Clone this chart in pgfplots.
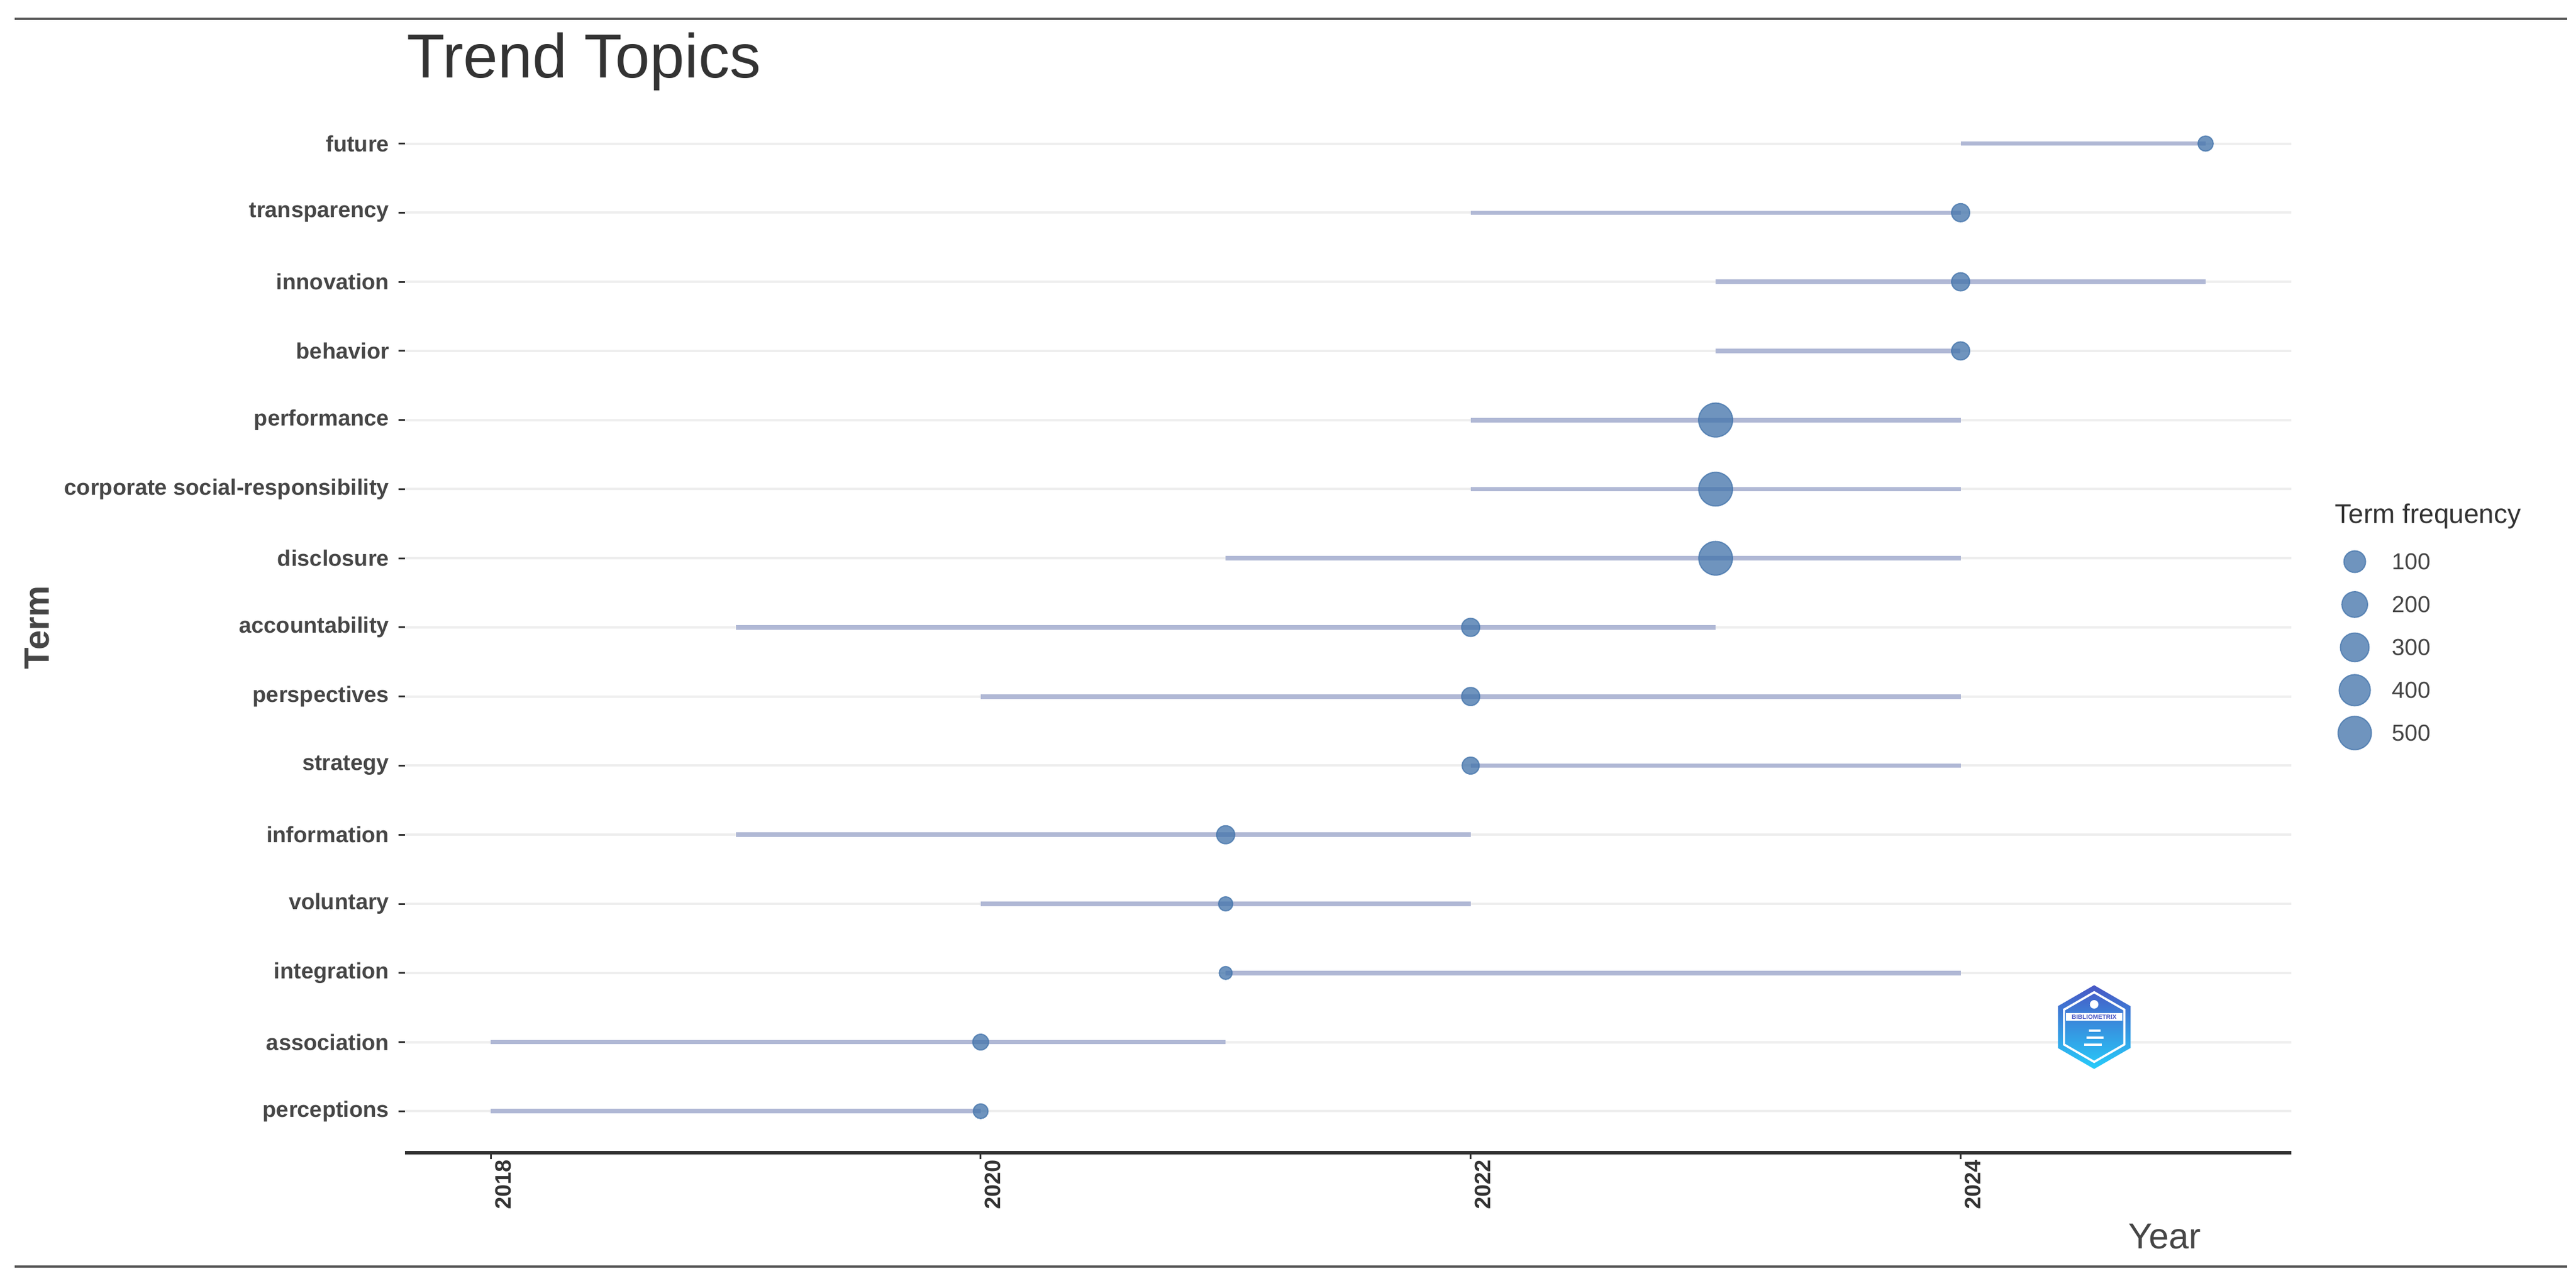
\documentclass[border=0pt]{standalone}
\usepackage{fontspec}
\setmainfont{Liberation Sans}
\usepackage{pgfplots}
\usepackage{pgfplotstable}
\pgfplotsset{compat=1.18}
\definecolor{segc}{RGB}{176,184,213}
\definecolor{dotc}{RGB}{70,118,172}
\definecolor{gridc}{RGB}{238,238,238}
\definecolor{txt}{RGB}{70,70,70}
\definecolor{ttl}{RGB}{51,51,51}
\definecolor{rulec}{RGB}{85,85,85}
\definecolor{logotop}{RGB}{72,86,196}
\definecolor{logobot}{RGB}{38,204,250}

% y = row (1 = bottom), year = median year (dot), q1/q3 = segment ends, freq = term frequency
\pgfplotstableread{
y year q1 q3 freq
15 2025 2024 2025 16
14 2024 2022 2024 42
13 2024 2023 2025 42
12 2024 2023 2024 42
11 2023 2022 2024 530
10 2023 2022 2024 520
9 2023 2021 2024 515
8 2022 2019 2023 42
7 2022 2020 2024 42
6 2022 2022 2024 30
5 2021 2019 2022 42
4 2021 2020 2022 12
3 2021 2021 2024 10
2 2020 2018 2021 20
1 2020 2018 2020 14
}\trend

\pgfplotstableread{
freq
100
200
300
400
500
}\sizes

\pgfplotsset{
  dotstyle/.style={scatter, only marks, mark=*, point meta=\thisrow{freq},
    visualization depends on={1.65+2.7*sqrt((\thisrow{freq}-10)/520) \as \msz},
    scatter/use mapped color={draw=dotc, fill=dotc},
    scatter/@pre marker code/.append style={/tikz/mark size=\msz pt},
    mark options={fill opacity=0.78, draw opacity=0.78, line width=0.3pt}},
}

\begin{document}
\begin{tikzpicture}
\useasboundingbox (0,0) rectangle (658.35pt,327.9pt);
\draw[rulec, line width=0.6pt] (3.75pt,323.1pt) -- (656.1pt,323.1pt);
\draw[rulec, line width=0.6pt] (3.75pt,4.2pt) -- (656.1pt,4.2pt);

\begin{axis}[
  at={(103.5pt,33.3pt)}, anchor=south west, scale only axis,
  width=482.1pt, height=268.5pt,
  xmin=2017.65, xmax=2025.35, ymin=0.4, ymax=15.6,
  axis x line*=bottom, axis y line*=left,
  x axis line style={-, line width=0.9pt, color=ttl},
  y axis line style={draw=none},
  xtick={2018,2020,2022,2024}, xticklabels={2018,2020,2022,2024},
  ytick={1,...,15},
  yticklabels={perceptions,association,integration,voluntary,information,strategy,perspectives,accountability,disclosure,corporate social-responsibility,performance,behavior,innovation,transparency,future},
  tick align=outside, major tick length=1.6pt,
  tick style={color=ttl, line width=0.45pt},
  ymajorgrids, grid style={gridc, line width=0.6pt},
  yticklabel style={font=\fontsize{5.7}{6.8}\selectfont\bfseries, text=txt, inner sep=0pt, anchor=east, xshift=-2.25pt},
  xticklabel style={font=\fontsize{5.7}{6.8}\selectfont\bfseries, text=ttl, rotate=90, anchor=east, inner sep=0pt, yshift=-3.15pt},
  clip=false,
]
\addplot[forget plot, no markers, draw=segc, line width=1.15pt, line cap=butt,
  quiver={u=\thisrow{q3}-\thisrow{q1}, v=0}]
  table[x=q1, y=y] {\trend};
\addplot[dotstyle] table[x=year, y=y] {\trend};
\end{axis}

% size legend
\begin{axis}[at={(600.8pt,184.35pt)}, anchor=north west, scale only axis,
  width=2pt, height=43.8pt, xmin=-1, xmax=1, ymin=100, ymax=500,
  y dir=reverse, hide axis, clip=false]
\addplot[dotstyle] table[x expr=0, y=freq] {\sizes};
\foreach \v in {100,200,300,400,500}{
  \edef\tmp{\noexpand\node[anchor=west, inner sep=0pt, xshift=9.3pt, font=\noexpand\fontsize{5.9}{7}\noexpand\selectfont, text=txt] at (axis cs:0,\v) {\v};}
  \tmp
}
\end{axis}

\node[anchor=base west, font=\fontsize{15.9}{18}\selectfont, text=ttl, inner sep=0pt] at (103.8pt,307.95pt) {Trend Topics};
\node[anchor=base west, font=\fontsize{9.2}{11}\selectfont, text=txt, inner sep=0pt] at (543.75pt,8.7pt) {Year};
\node[rotate=90, font=\fontsize{9}{11}\selectfont\bfseries, text=txt, inner sep=0pt] at (9.5pt,167.55pt) {Term};
\node[anchor=base west, font=\fontsize{6.9}{8}\selectfont, text=ttl, inner sep=0pt] at (596.55pt,194.1pt) {Term frequency};

% logo
\begin{scope}[shift={(535.2pt,65.4pt)}]
\shade[top color=logotop, bottom color=logobot] (90:10.7pt) -- (150:10.7pt) -- (210:10.7pt) -- (270:10.7pt) -- (330:10.7pt) -- (30:10.7pt) -- cycle;
\draw[white, line width=0.55pt] (90:8.9pt) -- (150:8.9pt) -- (210:8.9pt) -- (270:8.9pt) -- (330:8.9pt) -- (30:8.9pt) -- cycle;
\fill[white] (-7.2pt,1.6pt) rectangle (7.2pt,3.6pt);
\node[text=logotop, font=\fontsize{1.6}{2}\selectfont\bfseries, inner sep=0pt] at (0,2.6pt) {BIBLIOMETRIX};
\fill[white] (0,5.8pt) circle (1.1pt);
\fill[white] (-1.4pt,-0.6pt) rectangle (1.6pt,-1.2pt);
\fill[white] (-2pt,-2.4pt) rectangle (2.4pt,-3pt);
\fill[white] (-2.6pt,-4.2pt) rectangle (2pt,-4.8pt);
\end{scope}
\end{tikzpicture}
\end{document}
